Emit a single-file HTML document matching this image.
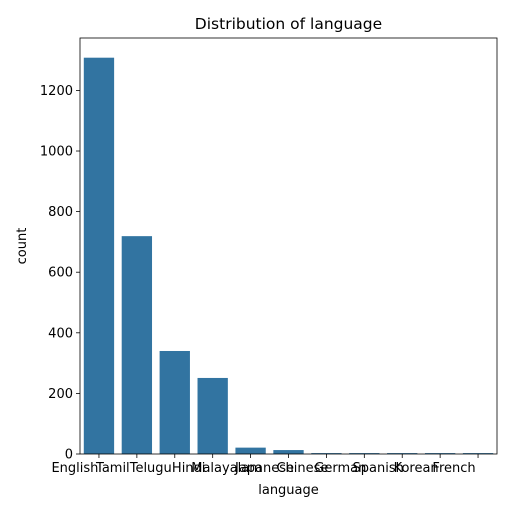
<!DOCTYPE html>
<html><head><style>body{margin:0;background:#fff;font-family:"Liberation Sans","DejaVu Sans",sans-serif}</style></head>
<body>
<svg id="c" width="512" height="512" xmlns="http://www.w3.org/2000/svg" font-family="DejaVu Sans, Liberation Sans, sans-serif"></svg>
<script>
const categories=["English","Tamil","Telugu","Hindi","Malayalam","Japanese","Chinese","German","Spanish","Korean","French"];
const counts=[1308,719,340,251,21,13,3,3,3,3,3];
const yTicks=[0,200,400,600,800,1000,1200];
const svg=document.getElementById('c');
const NS='http://www.w3.org/2000/svg';
const L=80,R=497,T=38,B=454;
const yMax=1373;
const y=v=>B-(v/yMax)*(B-T);
const step=(R-L)/categories.length;
const x=i=>L+step*(i+0.5);
function mk(t,a,txt){const e=document.createElementNS(NS,t);for(const k in a)e.setAttribute(k,a[k]);if(txt!=null)e.textContent=txt;svg.appendChild(e);return e;}
categories.forEach((c,i)=>{
 const b=mk('rect',{x:x(i)-step*0.4,y:y(counts[i]),width:step*0.8,height:B-y(counts[i]),fill:'#3274a1'});
 
 
 const tk=mk('line',{x1:x(i),x2:x(i),y1:B,y2:B+4,stroke:'#000','stroke-width':0.8});
 
 
 const lb=mk('text',{x:x(i)-24,y:B+18,'text-anchor':'middle','font-size':13},c);
 
 
});
yTicks.forEach(v=>{
 const tk=mk('line',{x1:L-4,x2:L,y1:y(v),y2:y(v),stroke:'#000','stroke-width':0.8});
 
 
 const lb=mk('text',{x:L-7,y:y(v)+4.5,'text-anchor':'end','font-size':13},v);
 
 
});
const fr=mk('rect',{x:L,y:T,width:R-L,height:B-T,fill:'none',stroke:'#000','stroke-width':0.8});


const ti=mk('text',{x:(L+R)/2,y:T-9,'text-anchor':'middle','font-size':15.5},'Distribution of language');


const xt=mk('text',{x:(L+R)/2,y:494,'text-anchor':'middle','font-size':13},'language');


const yt=mk('text',{x:26,y:(T+B)/2,'text-anchor':'middle','font-size':13,transform:`rotate(-90 26 ${(T+B)/2})`},'count');


</script>
</body></html>
